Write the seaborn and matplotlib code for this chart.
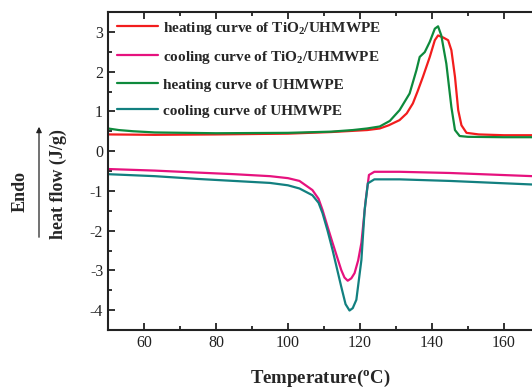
import matplotlib
matplotlib.use("Agg")
import matplotlib.pyplot as plt
import seaborn as sns
from matplotlib.ticker import MultipleLocator

# heating curve of TiO2/UHMWPE
heat_tio2_T = [50, 63, 80, 100, 112, 118, 122, 125.5, 128, 131, 133, 134.7, 136,
               137.5, 139.4, 140.8, 141.7, 143.1, 144.5, 145.4, 146.4, 147.3, 148.2,
               149.6, 153, 160, 168]
heat_tio2 = [0.42, 0.41, 0.42, 0.44, 0.48, 0.51, 0.53, 0.57, 0.65, 0.78, 0.95, 1.20, 1.50,
             1.87, 2.37, 2.79, 2.91, 2.86, 2.79, 2.54, 1.87, 1.03, 0.65,
             0.46, 0.42, 0.40, 0.40]

# cooling curve of TiO2/UHMWPE
cool_tio2_T = [50, 63, 75, 85, 95, 100, 103.2, 106.8, 108.5, 109.6, 111, 112.4, 114.8,
               115.7, 116.6, 117.6, 118.5, 119.5, 120.4, 121.6, 122.5, 124, 131, 145, 168]
cool_tio2 = [-0.45, -0.49, -0.54, -0.58, -0.63, -0.68, -0.75, -0.98, -1.2, -1.48, -1.9, -2.31, -2.99,
             -3.18, -3.26, -3.20, -3.07, -2.75, -2.31, -1.23, -0.60, -0.52, -0.52, -0.55, -0.63]

# heating curve of UHMWPE
heat_pe_T = [50, 53, 57, 63, 80, 100, 112, 118, 122, 125.5, 128.3, 131, 133.8, 135.7,
             136.6, 138, 139.4, 140.8, 141.7, 142.6, 144, 145.4, 146.4, 147.7, 150, 160, 168]
heat_pe = [0.57, 0.53, 0.50, 0.47, 0.45, 0.46, 0.49, 0.53, 0.57, 0.62, 0.76, 1.03, 1.45, 2.04,
           2.37, 2.49, 2.75, 3.08, 3.14, 2.91, 2.20, 1.11, 0.53, 0.38, 0.36, 0.35, 0.35]

# cooling curve of UHMWPE
cool_pe_T = [50, 63, 75, 85, 95, 100, 103.2, 106.8, 108.5, 109.6, 111, 112.4, 114.8, 116,
             117.1, 118, 119, 120.4, 121.3, 122.2, 124, 131, 145, 168]
cool_pe = [-0.58, -0.63, -0.70, -0.75, -0.80, -0.86, -0.94, -1.11, -1.3, -1.56, -2.0, -2.49, -3.41, -3.85,
           -4.01, -3.95, -3.74, -2.74, -1.48, -0.81, -0.71, -0.71, -0.75, -0.84]

labels = [
    "heating curve of TiO$_2$/UHMWPE",
    "cooling curve of TiO$_2$/UHMWPE",
    "heating curve of UHMWPE",
    "cooling curve of UHMWPE",
]
colors = ["#F21D1D", "#E6127E", "#0E8A3C", "#128080"]

sns.set_style("ticks")
plt.rcParams["font.family"] = ["Liberation Serif", "DejaVu Serif"]
plt.rcParams["mathtext.fontset"] = "custom"
plt.rcParams["mathtext.rm"] = "Liberation Serif:bold"
plt.rcParams["mathtext.it"] = "Liberation Serif:bold"
plt.rcParams["mathtext.bf"] = "Liberation Serif:bold"
plt.rcParams["axes.unicode_minus"] = False

fig = plt.figure(figsize=(5.32, 3.9), dpi=100)
ax = fig.add_axes([108 / 532, 60 / 390, 1 - 108 / 532, 318 / 390])

series = [
    (heat_tio2_T, heat_tio2),
    (cool_tio2_T, cool_tio2),
    (heat_pe_T, heat_pe),
    (cool_pe_T, cool_pe),
]
for (xs, ys), lab, col in zip(series, labels, colors):
    sns.lineplot(x=xs, y=ys, ax=ax, color=col, linewidth=1.6, label=lab,
                 sort=False, estimator=None)

ax.set_xlim(50, 167.8)
ax.set_ylim(-4.5, 3.5)
ax.xaxis.set_major_locator(MultipleLocator(20))
ax.xaxis.set_minor_locator(MultipleLocator(10))
ax.yaxis.set_major_locator(MultipleLocator(1))
ax.yaxis.set_minor_locator(MultipleLocator(0.5))
ax.tick_params(which="both", direction="in", top=True, right=False, width=1.3,
               labelsize=11.5, colors="#222222")
ax.tick_params(which="major", length=5)
ax.tick_params(which="minor", length=3)
for side in ["left", "bottom", "top"]:
    ax.spines[side].set_linewidth(1.5)
    ax.spines[side].set_color("#222222")
ax.spines["right"].set_visible(False)

ax.set_xlabel("Temperature($^{\\mathrm{o}}$C)", fontsize=13.5, fontweight="bold", labelpad=12)

leg = ax.legend(loc="upper left", frameon=False, fontsize=11, handlelength=2.7,
                handletextpad=0.27, labelspacing=0.8, borderaxespad=0.2,
                bbox_to_anchor=(0.0, 1.005))
for t in leg.get_texts():
    t.set_fontweight("bold")

fig.text(20 / 532, 1 - 191 / 390, "Endo", rotation=90, ha="center", va="center",
         fontsize=13, fontweight="bold")
fig.text(58 / 532, 1 - 184 / 390, "heat flow (J/g)", rotation=90, ha="center", va="center",
         fontsize=13, fontweight="bold")
fig.patches.append(matplotlib.patches.FancyArrowPatch(
    (39 / 532, 1 - 240 / 390), (39 / 532, 1 - 124 / 390), transform=fig.transFigure,
    arrowstyle="-|>", mutation_scale=8, linewidth=0.9, color="#222222"))

fig.savefig("out.png", dpi=100)
